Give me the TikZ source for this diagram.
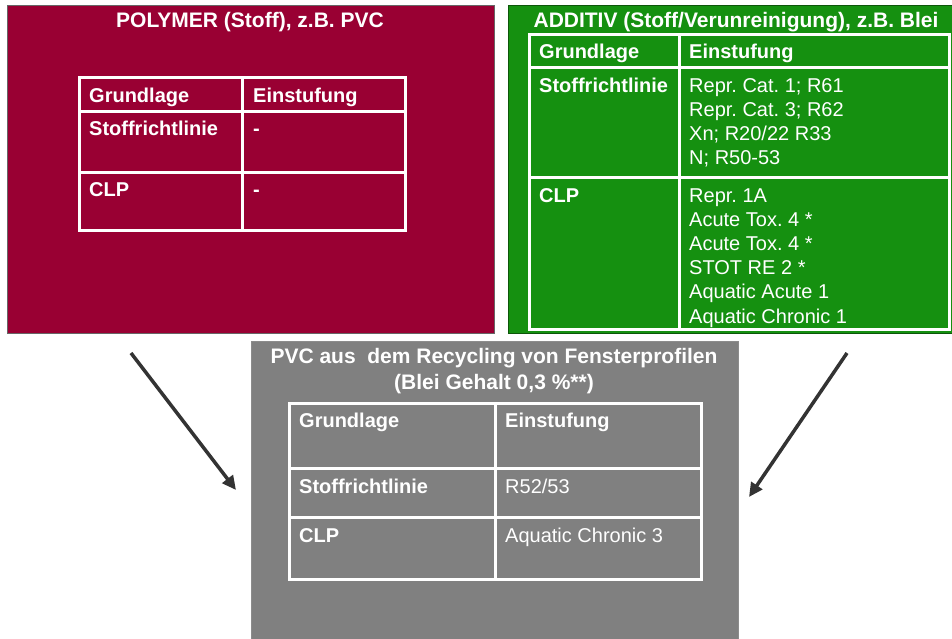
\documentclass[tikz,border=0pt]{standalone}
\usepackage{fontspec}
\setmainfont{Liberation Sans}
\usetikzlibrary{arrows.meta}
\frenchspacing
\definecolor{polyred}{HTML}{990033}
\definecolor{addgreen}{HTML}{159010}
\definecolor{recgray}{HTML}{808080}
\definecolor{arrowgray}{HTML}{333333}
\tikzset{
  panel/.style={anchor=north west, inner sep=0pt, outer sep=0pt, line width=0.8pt},
  grid/.style={draw=white, line width=3pt},
  ttl/.style={anchor=base, inner sep=0pt, text=white, font=\fontsize{21}{26}\selectfont\bfseries\frenchspacing},
  hd/.style={anchor=base west, inner sep=0pt, text=white, font=\fontsize{20}{24}\selectfont\bfseries\frenchspacing},
  val/.style={anchor=base west, inner sep=0pt, text=white, align=left, font=\fontsize{20}{24.2}\selectfont\frenchspacing},
  flow/.style={draw=arrowgray, line width=3.5pt, -{Triangle[length=14pt,width=13pt]}}
}
\begin{document}
\begin{tikzpicture}[x=1pt,y=-1pt]
\useasboundingbox[fill=white] (0,0) rectangle (952,638);
% panels
\node[panel, fill=polyred, draw=black!60, minimum width=487pt, minimum height=328pt] (poly) at (7,5) {};
\node[panel, fill=addgreen, draw=addgreen!60!black, minimum width=446pt, minimum height=328pt] (add) at (508,5) {};
\node[panel, fill=recgray, draw=black!45, minimum width=487pt, minimum height=300pt] (rec) at (251,341) {};
% titles (multi-line nodes: base anchor = baseline of last line)
\node[ttl] (polyT) at (250,27) {POLYMER (Stoff), z.B. PVC};
\node[ttl] (addT) at (736,27) {ADDITIV (Stoff/Verunreinigung), z.B. Blei};
\node[ttl, align=center] (recT) at (494,389) {PVC aus\ \ dem Recycling von Fensterprofilen\\(Blei Gehalt 0,3 \%**)};
% table 1
\draw[grid] (79,77) rectangle (405,230);
\draw[grid] (79,111) -- (405,111) (79,172) -- (405,172) (242,77) -- (242,230);
\node[hd] (p1) at (89,102) {Grundlage};
\node[hd] (p2) at (253,102) {Einstufung};
\node[hd] (p3) at (89,135) {Stoffrichtlinie};
\node[hd] (p4) at (253,135) {-};
\node[hd] (p5) at (89,196) {CLP};
\node[hd] (p6) at (253,196) {-};
% table 2
\draw[grid] (529,34) rectangle (949,329);
\draw[grid] (529,67) -- (949,67) (529,177) -- (949,177) (679,34) -- (679,329);
\node[hd] (a1) at (539,58) {Grundlage};
\node[hd] (a2) at (689,58) {Einstufung};
\node[hd] (a3) at (539,92) {Stoffrichtlinie};
\node[val] (a4) at (689,164.6) {Repr. Cat. 1; R61\\Repr. Cat. 3; R62\\Xn; R20/22 R33\\N; R50-53};
\node[hd] (a5) at (539,202) {CLP};
\node[val] (a6) at (689,323) {Repr. 1A\\Acute Tox. 4 *\\Acute Tox. 4 *\\STOT RE 2 *\\Aquatic Acute 1\\Aquatic Chronic 1};
% table 3
\draw[grid] (289,403) rectangle (701,579);
\draw[grid] (289,468) -- (701,468) (289,517) -- (701,517) (495,403) -- (495,579);
\node[hd] (r1) at (299,427) {Grundlage};
\node[hd] (r2) at (505,427) {Einstufung};
\node[hd] (r3) at (299,493) {Stoffrichtlinie};
\node[val] (r4) at (505,493) {R52/53};
\node[hd] (r5) at (299,542) {CLP};
\node[val] (r6) at (505,542) {Aquatic Chronic 3};
% arrows
\coordinate (l0) at (131,353);
\coordinate (l1) at (236,490);
\coordinate (r0) at (847,353);
\coordinate (r1e) at (749,497);
\draw[flow] (l0) -- (l1);
\draw[flow] (r0) -- (r1e);
\end{tikzpicture}
\end{document}
